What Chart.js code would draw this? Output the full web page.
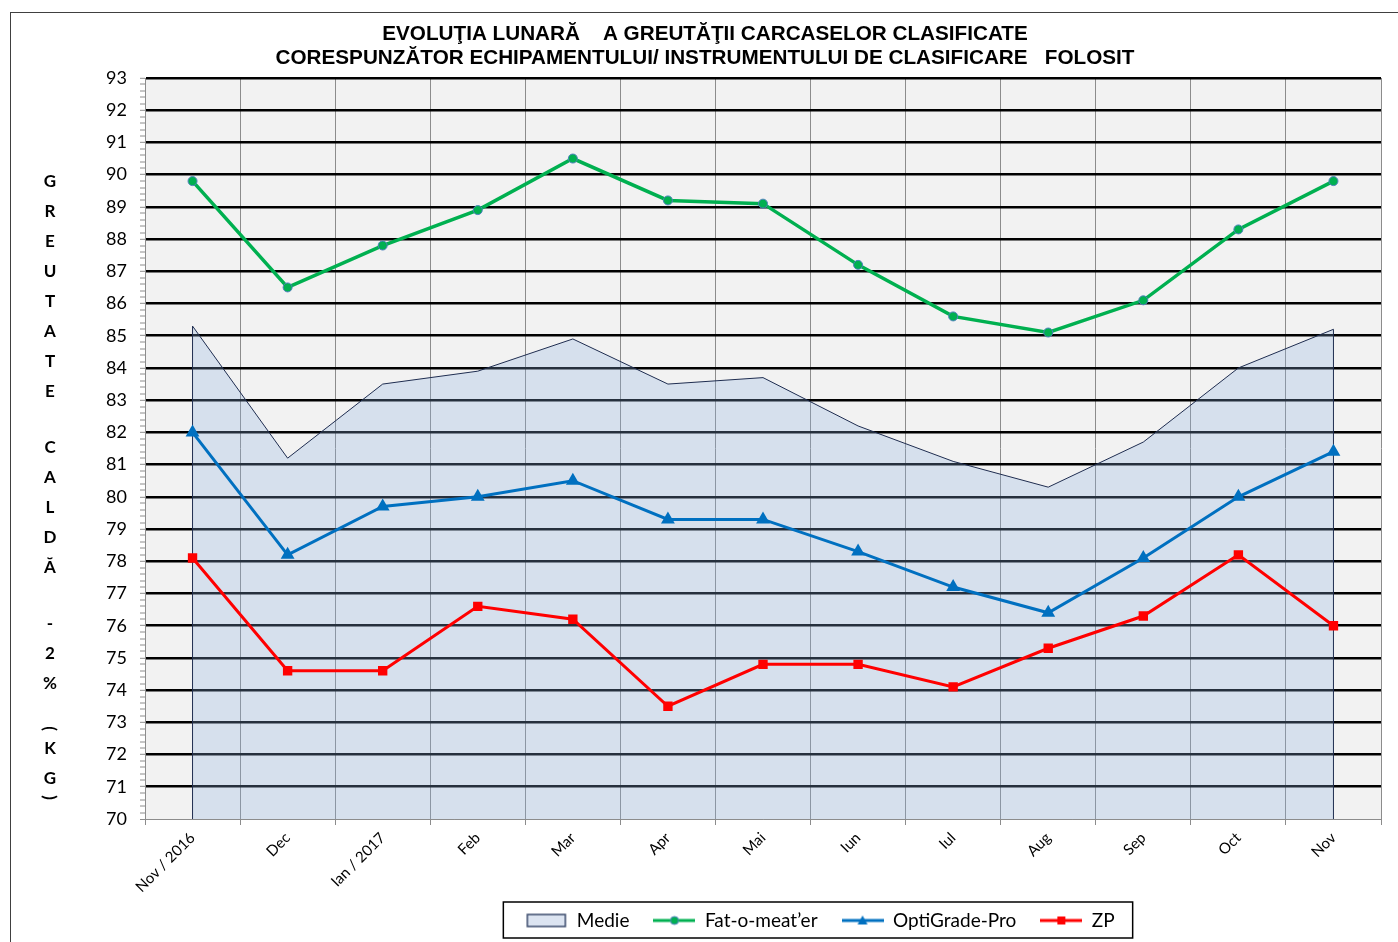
<!DOCTYPE html>
<html>
<head>
<meta charset="utf-8">
<script src="https://cdn.jsdelivr.net/npm/chart.js@4.4.0/dist/chart.umd.min.js"></script>
<style>
  html, body { margin: 0; padding: 0; background: #fff; overflow: hidden; }
  #frame { position: absolute; left: 10px; top: 12px; width: 1400px; height: 940px; border: 1px solid #404040; }
  #chart { position: absolute; left: 0; top: 0; }
  #ytitle { position: absolute; left: 24px; top: 153px; width: 30px; font: bold 17px Lato, sans-serif; color: #000; text-align: center; }
  #ytitle span { display: block; height: 30px; line-height: 30px; }
  #ytitle span.gap { height: 26px; }
  #ytitle span.par { height: 9px; line-height: 9px; transform: rotate(90deg); }
</style>
</head>
<body>
<div id="frame">
  <canvas id="chart" width="1388" height="929"></canvas>
  <div id="ytitle"></div>
</div>
<script>
// --- date ---
const categories = ['Nov / 2016', 'Dec', 'Ian / 2017', 'Feb', 'Mar', 'Apr', 'Mai', 'Iun', 'Iul', 'Aug', 'Sep', 'Oct', 'Nov'];
const medie      = [85.3, 81.2, 83.5, 83.9, 84.9, 83.5, 83.7, 82.2, 81.1, 80.3, 81.7, 84.0, 85.2];
const fatOMeater = [89.8, 86.5, 87.8, 88.9, 90.5, 89.2, 89.1, 87.2, 85.6, 85.1, 86.1, 88.3, 89.8];
const optiGrade  = [82.0, 78.2, 79.7, 80.0, 80.5, 79.3, 79.3, 78.3, 77.2, 76.4, 78.1, 80.0, 81.4];
const zp         = [78.1, 74.6, 74.6, 76.6, 76.2, 73.5, 74.8, 74.8, 74.1, 75.3, 76.3, 78.2, 76.0];
const seriesNames = ['Medie', 'Fat-o-meat\u2019er', 'OptiGrade-Pro', 'ZP'];
const yMin = 70, yMax = 93;
const titleLines = [
    'EVOLUŢIA LUNARĂ    A GREUTĂŢII CARCASELOR CLASIFICATE',
    'CORESPUNZĂTOR ECHIPAMENTULUI/ INSTRUMENTULUI DE CLASIFICARE   FOLOSIT'
];
const yTitle = 'GREUTATE CALDĂ -2% (KG)';

// titlul axei Y, litere una sub alta
const yt = document.getElementById('ytitle');
for (const ch of yTitle) {
    const s = document.createElement('span');
    if (ch === ' ') { s.className = 'gap'; s.innerHTML = '&nbsp;'; }
    else if (ch === '(' || ch === ')') { s.className = 'par'; s.textContent = ch; }
    else s.textContent = ch;
    yt.appendChild(s);
}

// mici desene pentru legenda
function lineSwatch(color, marker, edge) {
    const c = document.createElement('canvas');
    c.width = 42; c.height = 14;
    const g = c.getContext('2d');
    g.strokeStyle = color; g.lineWidth = 3;
    g.beginPath(); g.moveTo(0, 7); g.lineTo(42, 7); g.stroke();
    g.fillStyle = color;
    g.beginPath();
    if (marker === 'circle') g.arc(21, 7, 4, 0, Math.PI * 2);
    if (marker === 'triangle') { g.moveTo(21, 2); g.lineTo(26, 11); g.lineTo(16, 11); g.closePath(); }
    if (marker === 'rect') g.rect(17, 3, 8, 8);
    g.fill();
    if (edge) { g.strokeStyle = edge; g.lineWidth = 1; g.stroke(); }
    return c;
}
function areaSwatch() {
    const c = document.createElement('canvas');
    c.width = 42; c.height = 16;
    const g = c.getContext('2d');
    g.fillStyle = '#dce4f1'; g.fillRect(2, 2, 38, 12);
    g.strokeStyle = '#3a4a6b'; g.lineWidth = 1.5; g.strokeRect(2, 2, 38, 12);
    return c;
}
const swatches = [areaSwatch(), lineSwatch('#00b050', 'circle', '#4f81bd'), lineSwatch('#0070c0', 'triangle'), lineSwatch('#ff0000', 'rect')];

const isInt = v => Math.abs(v - Math.round(v)) < 1e-6;

const plotBg = {
    id: 'plotBg',
    beforeDraw(chart) {
        const {ctx, chartArea: a} = chart;
        ctx.save();
        ctx.fillStyle = '#f2f2f2';
        ctx.fillRect(a.left, a.top, a.right - a.left, a.bottom - a.top);
        ctx.restore();
    }
};

// marginile verticale ale ariei "Medie" si chenarul legendei
const extras = {
    id: 'extras',
    afterLayout(chart) {
        // titlul centrat pe toata latimea, legenda mutata spre dreapta
        chart.titleBlock.left += 9;
        chart.titleBlock.right += 9;
        chart.legend.left += 124;
        chart.legend.right += 124;
    },
    afterDatasetDraw(chart, args) {
        if (args.index !== 0) return;
        const pts = args.meta.data;
        const yb = chart.scales.y.getPixelForValue(yMin);
        const ctx = chart.ctx;
        ctx.save();
        ctx.strokeStyle = '#1f2d50';
        ctx.lineWidth = 1;
        ctx.beginPath();
        ctx.moveTo(pts[0].x, pts[0].y); ctx.lineTo(pts[0].x, yb);
        ctx.moveTo(pts[pts.length - 1].x, pts[pts.length - 1].y); ctx.lineTo(pts[pts.length - 1].x, yb);
        ctx.stroke();
        ctx.restore();
    },
    afterDraw(chart) {
        const boxes = chart.legend.legendHitBoxes;
        if (!boxes || !boxes.length) return;
        const l = Math.min(...boxes.map(b => b.left)) - 22;
        const r = Math.max(...boxes.map(b => b.left + b.width)) + 18;
        const t = boxes[0].top - 9;
        const b = boxes[0].top + boxes[0].height + 8;
        const ctx = chart.ctx;
        ctx.save();
        ctx.strokeStyle = '#000';
        ctx.lineWidth = 1.5;
        ctx.strokeRect(l, t, r - l, b - t);
        ctx.restore();
    }
};

new Chart(document.getElementById('chart'), {
    type: 'line',
    data: {
        labels: categories,
        datasets: [
            {
                label: seriesNames[0],
                data: medie,
                borderColor: '#1f2d50',
                borderWidth: 1,
                backgroundColor: 'rgba(142, 176, 225, 0.27)',
                fill: 'start',
                pointRadius: 0,
                tension: 0,
                order: 10
            },
            {
                label: seriesNames[1],
                data: fatOMeater,
                borderColor: '#00b050',
                borderWidth: 3.5,
                pointStyle: 'circle',
                pointRadius: 4.5,
                pointBackgroundColor: '#00b050',
                pointBorderColor: '#4f81bd',
                pointBorderWidth: 1,
                fill: false,
                tension: 0
            },
            {
                label: seriesNames[2],
                data: optiGrade,
                borderColor: '#0070c0',
                borderWidth: 3,
                pointStyle: 'triangle',
                pointRadius: 5,
                pointBackgroundColor: '#0070c0',
                pointBorderColor: '#0070c0',
                fill: false,
                tension: 0
            },
            {
                label: seriesNames[3],
                data: zp,
                borderColor: '#ff0000',
                borderWidth: 3,
                pointStyle: 'rect',
                pointRadius: 4.5,
                pointBackgroundColor: '#ff0000',
                pointBorderColor: '#ff0000',
                fill: false,
                tension: 0
            }
        ]
    },
    options: {
        responsive: false,
        animation: false,
        events: [],
        layout: { padding: { left: 0, right: 18, top: 0, bottom: 2 } },
        plugins: {
            title: {
                display: true,
                text: titleLines,
                color: '#000',
                font: { family: 'Liberation Sans, Arial, sans-serif', weight: 'bold', size: 20.7, lineHeight: '24px' },
                padding: { top: 9, bottom: 8 }
            },
            legend: {
                position: 'bottom',
                labels: {
                    color: '#000',
                    font: { family: 'Lato, sans-serif', size: 19 },
                    usePointStyle: true,
                    pointStyleWidth: 42,
                    boxHeight: 16,
                    padding: 24,
                    sort: (a, b) => a.datasetIndex - b.datasetIndex,
                    generateLabels(chart) {
                        return Chart.defaults.plugins.legend.labels.generateLabels(chart).map(it => {
                            it.pointStyle = swatches[it.datasetIndex];
                            return it;
                        });
                    }
                }
            },
            tooltip: { enabled: false }
        },
        scales: {
            x: {
                offset: true,
                afterFit(scale) {
                    scale.height = 68;
                    // etichetele rotite ies putin din caseta axei; nu le taia
                    scale._computeLabelArea = () => undefined;
                },
                grid: {
                    offset: true,
                    color: '#8c8c8c',
                    lineWidth: 1,
                    tickLength: 6,
                    tickColor: '#8c8c8c'
                },
                border: { color: '#8c8c8c', width: 1 },
                ticks: {
                    color: '#000',
                    font: { family: 'Lato, sans-serif', size: 15 },
                    minRotation: 45,
                    maxRotation: 45,
                    autoSkip: false,
                    padding: 4
                }
            },
            y: {
                min: yMin,
                max: yMax,
                afterFit(scale) { scale.width = 134; },
                grid: {
                    color: ctx => !isInt(ctx.tick.value) ? 'rgba(0,0,0,0)' : (ctx.tick.value === yMin ? '#8c8c8c' : '#000'),
                    lineWidth: ctx => isInt(ctx.tick.value) ? (ctx.tick.value === yMin ? 1 : 2.6) : 0,
                    tickColor: '#8c8c8c',
                    tickWidth: 1,
                    tickLength: 5,
                    drawTicks: true
                },
                border: { color: '#8c8c8c', width: 1 },
                ticks: {
                    stepSize: 0.2,
                    autoSkip: false,
                    color: '#000',
                    padding: 13,
                    font: { family: 'Lato, sans-serif', size: 18 },
                    callback: v => isInt(v) ? Math.round(v) : ''
                }
            }
        }
    },
    plugins: [plotBg, extras]
});
</script>
</body>
</html>
